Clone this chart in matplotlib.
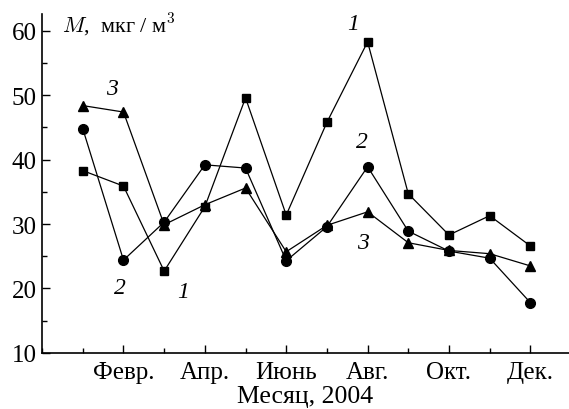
import matplotlib.pyplot as plt
from matplotlib.ticker import MultipleLocator

plt.rcParams['font.family'] = ['Liberation Serif', 'DejaVu Serif']
plt.rcParams['mathtext.fontset'] = 'cm'

months = list(range(1, 13))
month_ticks = [2, 4, 6, 8, 10, 12]
month_labels = ['Февр.', 'Апр.', 'Июнь', 'Авг.', 'Окт.', 'Дек.']

# concentration M, мкг/м3
series1 = [38.3, 35.9, 22.7, 32.7, 49.6, 31.4, 45.8, 58.3, 34.7, 28.3, 31.3, 26.6]
series2 = [44.8, 24.4, 30.3, 39.2, 38.7, 24.3, 29.6, 38.9, 28.9, 25.8, 24.7, 17.8]
series3 = [48.4, 47.4, 29.9, 33.0, 35.6, 25.7, 29.8, 31.9, 27.1, 25.9, 25.4, 23.5]

fig = plt.figure(figsize=(5.69, 4.10), dpi=100)
ax = fig.add_axes([0.074, 0.137, 0.926, 0.826])

ax.plot(months, series1, color='black', lw=0.9, marker='s', ms=6.2)
ax.plot(months, series2, color='black', lw=0.9, marker='o', ms=7)
ax.plot(months, series3, color='black', lw=0.9, marker='^', ms=7)

ax.set_xlim(0, 12.95)
ax.set_ylim(10, 62.6)
ax.set_xticks(month_ticks)
ax.set_xticklabels(month_labels)
ax.xaxis.set_minor_locator(MultipleLocator(1))
ax.yaxis.set_major_locator(MultipleLocator(10))
ax.yaxis.set_minor_locator(MultipleLocator(5))
ax.tick_params(which='both', direction='in', labelsize=18, width=1)
ax.tick_params(which='major', length=6)
ax.tick_params(which='minor', length=3.5)
ax.tick_params(axis='x', pad=6)
ax.tick_params(axis='y', pad=4)
ax.spines['top'].set_visible(False)
ax.spines['right'].set_visible(False)
for s in ['left', 'bottom']:
    ax.spines[s].set_linewidth(1.2)

# curve labels
lab = dict(fontsize=17, style='italic', ha='center', va='center')
ax.text(7.64, 61.1, '1', **lab)
ax.text(7.86, 42.8, '2', **lab)
ax.text(7.89, 27.2, '3', **lab)
ax.text(1.72, 51.0, '3', **lab)
ax.text(1.92, 20.2, '2', **lab)
ax.text(3.47, 19.6, '1', **lab)

ax.text(0.5, 61.1, r'$M$,  мкг / м$^3$', fontsize=16, ha='left', va='center')
ax.set_xlabel('Месяц, 2004', fontsize=18.5, labelpad=1)

fig.savefig('out.png', dpi=100)
